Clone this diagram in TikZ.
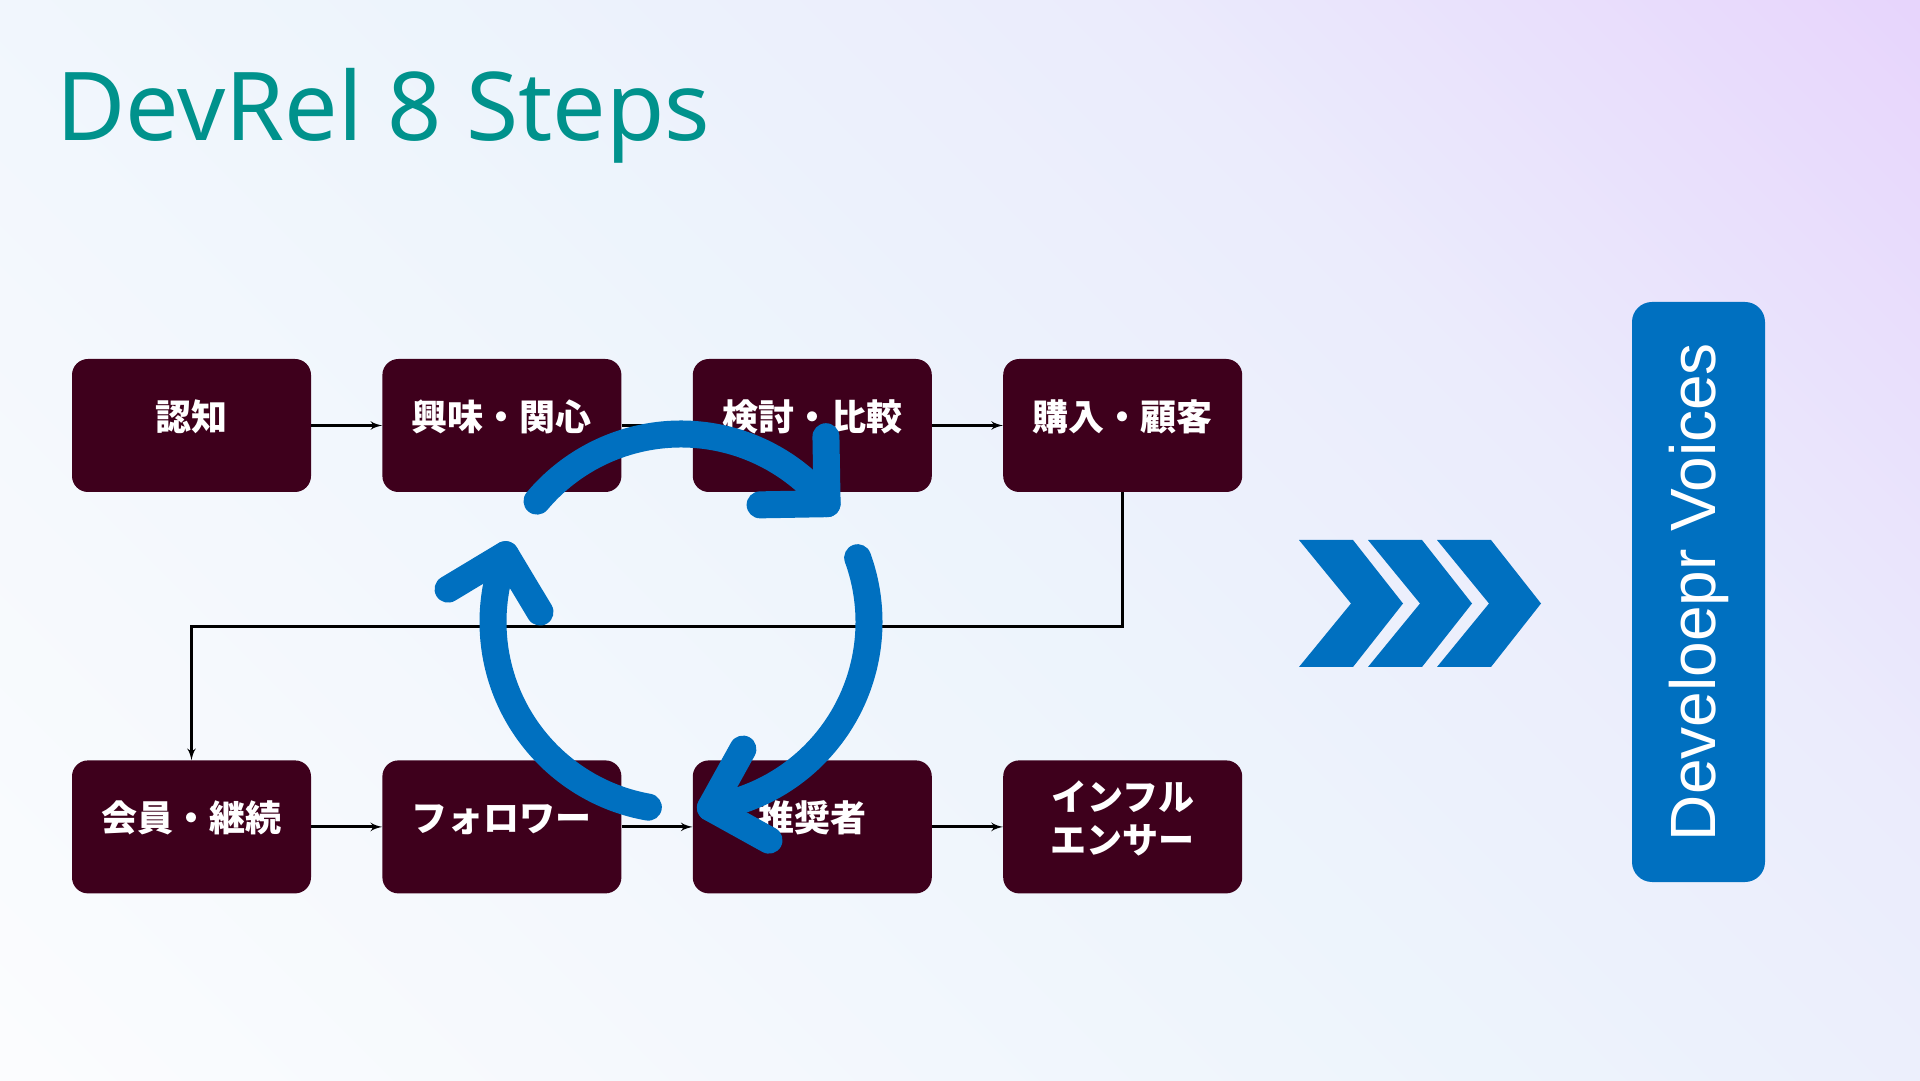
\documentclass[tikz,border=0pt]{standalone}
\usepackage{xcolor}
\usepackage{fontspec}
\setmainfont{Noto Sans}
\newfontfamily\jpfont{Noto Sans CJK JP}
\newfontfamily\voicefont{Liberation Sans}
\usepackage{tikz}
\usetikzlibrary{positioning}
\usetikzlibrary{arrows}
\definecolor{boxred}{RGB}{62,0,28}
\definecolor{devblue}{RGB}{0,112,192}
\definecolor{titleteal}{RGB}{0,146,140}
\definecolor{bgLow}{RGB}{251,252,254}
\definecolor{bgMid}{RGB}{237,244,252}
\definecolor{bgMix}{RGB}{235,236,252}
\definecolor{bgTop}{RGB}{231,212,252}
\pgfdeclarehorizontalshading{slidebg}{100bp}{color(0bp)=(bgLow); color(15bp)=(bgLow);
  color(50bp)=(bgMid); color(66bp)=(bgMix); color(86bp)=(bgTop); color(100bp)=(bgTop)}
\tikzset{edge/.style = {->,> = latex'}}

\begin{document}
\begin{tikzpicture}[x=1pt,y=1pt,node distance=71pt,
    stage/.style={rectangle,rounded corners=16pt,fill=boxred,text=white,
      minimum width=239pt,minimum height=133pt,inner sep=0pt,align=center,
      text height=27pt,text depth=17pt,
      font=\jpfont\bfseries\fontsize{36}{43}\selectfont},
    turn/.style={draw=devblue,line width=27pt,line cap=round,line join=round}]
        \shade[shading=slidebg,shading angle=45] (0,0) rectangle (1920,1080);
        \useasboundingbox (0,0) rectangle (1920,1080);
        \node[anchor=base west,inner sep=0pt,text=titleteal,font=\fontsize{95}{110}\selectfont]
            (heading) at (56,939) {DevRel 8 Steps};
        % top row
        \node[stage] (aware) at (191.5,654.5) {認知};
        \node[stage] (interest) [right=of aware] {興味・関心};
        \node[stage] (compare) [right=of interest] {検討・比較};
        \node[stage] (purchase) [right=of compare] {購入・顧客};
        % bottom row
        \node[stage] (member) [below=268pt of aware] {会員・継続};
        \node[stage] (follower) [right=of member] {フォロワー};
        \node[stage] (advocate) [right=of follower] {推奨者};
        \node[stage,text height=70pt] (influencer) [right=of advocate] {インフル\\エンサー};
        \path[edge,line width=3pt]
            (aware) edge (interest)
            (interest) edge (compare)
            (compare) edge (purchase)
            (member) edge (follower)
            (follower) edge (advocate)
            (advocate) edge (influencer);
        \draw[edge,line width=3pt] (purchase.south) -- ++(0,-134) -| (member.north);
        % cycle
        \coordinate (hub) at (681,458);
        \foreach \s in {140,20,-100}{
            \pgfmathsetmacro\endang{\s-101}
            \draw[turn] (hub) ++(\s:188) arc[start angle=\s,end angle=\endang,radius=188] coordinate (tip);
            \draw[turn] (tip) ++(\endang+142:67) -- (tip) -- ++(\endang+52:67);
        }
        % chevrons
        \foreach \k in {0,1,2}
            \fill[devblue] (1299+69*\k,540) -- ++(54,0) -- ++(50,-63.5) -- ++(-50,-63.5)
                -- ++(-54,0) -- ++(52,63.5) -- cycle;
        \node[rectangle,rounded corners=20pt,fill=devblue,text=white,rotate=90,
            minimum width=580pt,minimum height=133pt,
            font=\voicefont\fontsize{64}{76}\selectfont]
            (voices) at (1698.5,488) {Develoepr Voices};
\end{tikzpicture}
\end{document}
